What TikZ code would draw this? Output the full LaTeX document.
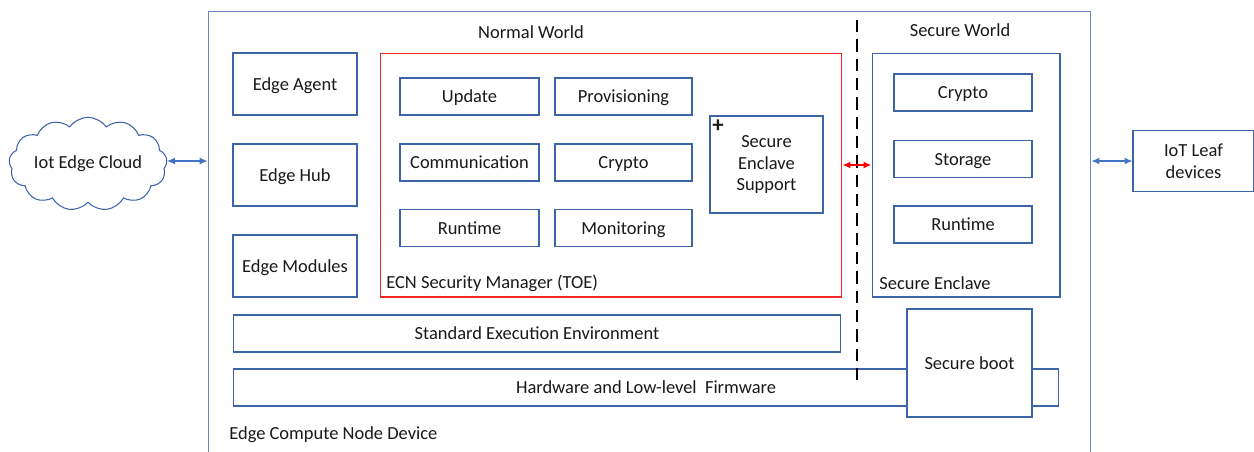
\documentclass[tikz,border=0pt]{standalone}
\usepackage{fontspec}
\setmainfont{Carlito}
\usepackage{tikz}
\usetikzlibrary{arrows.meta,calc,positioning,shapes.symbols}

\definecolor{boxblue}{RGB}{62,100,168}
\definecolor{devblue}{RGB}{105,135,195}
\definecolor{arrblue}{RGB}{68,114,196}
\definecolor{ecnred}{RGB}{240,40,40}

\begin{document}
\begin{tikzpicture}[x=0.02cm,y=-0.02cm,>={Latex[length=4.5pt,width=4pt]},
  every node/.style={font=\fontsize{10.5}{12.5}\selectfont,text=black!90},
  box/.style={draw=boxblue,line width=0.6pt,rectangle,inner sep=0pt,fill=white},
  oneline/.style={text height=8.4pt,text depth=1.5pt},
  small/.style={box,oneline,minimum width=2.78cm,minimum height=0.74cm},
  side/.style={box,oneline,minimum width=2.48cm,minimum height=1.24cm},
  lbl/.style={anchor=west,inner sep=0pt}]
\useasboundingbox (0,0) rectangle (1254,451);
% device
\node[box,draw=devblue,fill=none,minimum width=17.66cm,minimum height=9.18cm] (dev) at (649.5,240.5) {};
\node (nw) at (531,32) {Normal World};
\node (sw) at (960,30) {Secure World};
\node[lbl] (ecnd) at (229,435) {Edge Compute Node Device};
% edge side
\node[side] (agent) at (295,84) {Edge Agent};
\node[side] (hub) at (295,175) {Edge Hub};
\node[side] (modules) at (295,266) {Edge Modules};
% security manager
\node[box,draw=ecnred,fill=none,minimum width=9.24cm,minimum height=4.88cm] (ecn) at (611,175) {};
\node[lbl] (ecnl) at (386,283) {ECN Security Manager (TOE)};
\node[small] (update) at (469.5,96.5) {Update};
\node[small,minimum width=2.74cm] (prov) at (623.5,96.5) {Provisioning};
\node[small] (comm) at (469.5,162.5) {Communication};
\node[small,minimum width=2.74cm] (crypto) at (623.5,162.5) {Crypto};
\node[small] (runtime) at (469.5,228) {Runtime};
\node[small,minimum width=2.74cm] (monitor) at (623.5,228) {Monitoring};
\node[box,minimum width=2.26cm,minimum height=1.94cm,align=center] (ses) at (766.5,164.5) {Secure\\Enclave\\Support};
\node[inner sep=0pt,font=\fontsize{13}{13}\selectfont\bfseries] (plus) at (718,126) {+};
% secure world
\node[box,fill=none,minimum width=3.76cm,minimum height=4.88cm] (enclave) at (966,175) {};
\node[lbl] (enclavel) at (879,283) {Secure Enclave};
\node[small,minimum width=2.76cm] (scrypto) at (963,92.5) {Crypto};
\node[small,minimum width=2.76cm] (storage) at (963,159) {Storage};
\node[small,minimum width=2.76cm] (sruntime) at (963,224.5) {Runtime};
% layers
\node[box,oneline,minimum width=12.16cm,minimum height=0.74cm] (see) at (537,333.5) {Standard Execution Environment};
\node[box,oneline,minimum width=16.52cm,minimum height=0.74cm] (hw) at (646,387.5) {Hardware and Low-level\ \ Firmware};
\node[box,oneline,minimum width=2.5cm,minimum height=2.16cm] (boot) at (969.5,363) {Secure boot};
% world split
\coordinate (splittop) at (857,20);
\coordinate (splitbot) at (857,387);
\draw[dashed,line width=1.1pt,dash pattern=on 7pt off 4pt] (splittop) -- (splitbot);
\draw[<->,draw=red,line width=1.1pt] (ecn.east |- 0,165) -- (enclave.west |- 0,165);
% outside
\node[cloud,cloud puffs=13,cloud puff arc=110,aspect=2,draw=boxblue,line width=0.6pt,
  minimum width=3.05cm,minimum height=1.6cm,inner sep=0pt] (cloud) at (88,164) {Iot Edge Cloud};
\node[box,minimum width=2.42cm,minimum height=1.22cm,align=center] (leaf) at (1193.5,161) {IoT Leaf\\devices};
\draw[<->,draw=arrblue,line width=0.8pt] (cloud.east |- 0,161) -- (dev.west |- 0,161);
\draw[<->,draw=arrblue,line width=0.8pt] (leaf.west) -- (leaf.west -| dev.east);
\end{tikzpicture}
\end{document}
